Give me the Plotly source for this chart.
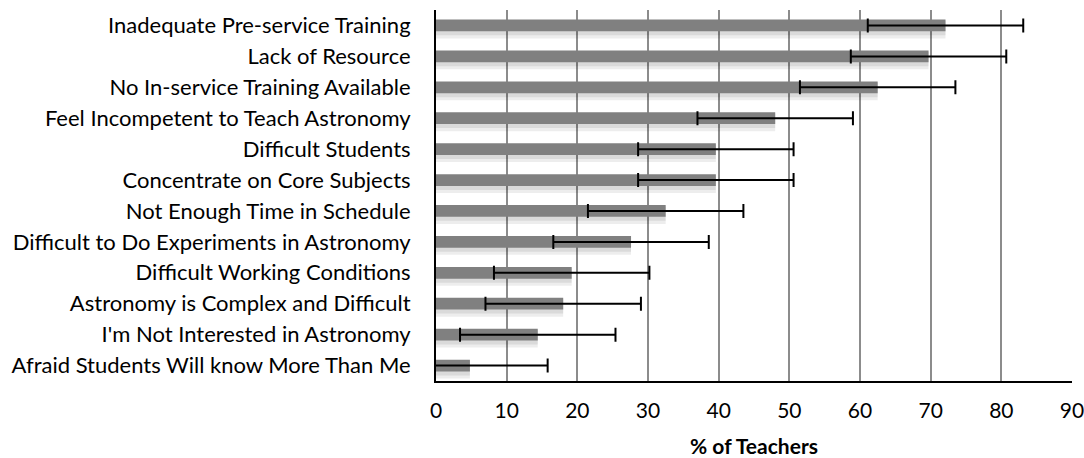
import plotly.graph_objects as go

categories = [
    "Inadequate Pre-service Training",
    "Lack of Resource",
    "No In-service Training Available",
    "Feel Incompetent to Teach Astronomy",
    "Difficult Students",
    "Concentrate on Core Subjects",
    "Not Enough Time in Schedule",
    "Difficult to Do Experiments in Astronomy",
    "Difficult Working Conditions",
    "Astronomy is Complex and Difficult",
    "I'm Not Interested in Astronomy",
    "Afraid Students Will know More Than Me",
]
percent = [72.1, 69.7, 62.5, 48.0, 39.6, 39.6, 32.5, 27.6, 19.2, 18.0, 14.4, 4.8]
error = [11.0, 11.0, 11.0, 11.0, 11.0, 11.0, 11.0, 11.0, 11.0, 11.0, 11.0, 11.0]
x_ticks = [0, 10, 20, 30, 40, 50, 60, 70, 80, 90]

FONT = "Lato, 'Open Sans', sans-serif"

fig = go.Figure()

# soft shadow under the bars
fig.add_trace(go.Bar(
    y=categories, x=percent, orientation="h",
    marker=dict(color="rgba(0,0,0,0.07)", line=dict(width=0)),
    width=0.56, offset=-0.14,
    hoverinfo="skip", showlegend=False,
))
fig.add_trace(go.Bar(
    y=categories, x=percent, orientation="h",
    marker=dict(color="rgba(0,0,0,0.08)", line=dict(width=0)),
    width=0.48, offset=-0.16,
    hoverinfo="skip", showlegend=False,
))

fig.add_trace(go.Bar(
    y=categories, x=percent, orientation="h",
    marker=dict(color="#808080", line=dict(width=0)),
    width=0.38, offset=-0.19,
    error_x=dict(type="data", array=error, arrayminus=error, visible=True,
                 color="black", thickness=2, width=7),
    showlegend=False,
))

fig.update_layout(
    width=1084, height=458,
    margin=dict(l=436, r=12, t=10, b=77),
    paper_bgcolor="white", plot_bgcolor="white",
    barmode="overlay",
    font=dict(family=FONT, size=21, color="black"),
    xaxis=dict(
        range=[0, 90], tickvals=x_ticks, ticktext=[str(v) for v in x_ticks],
        showgrid=True, gridcolor="#8c8c8c", gridwidth=1.5,
        showline=True, linecolor="black", linewidth=2,
        zeroline=False, ticks="", ticklen=0, ticklabelstandoff=10,
        ticklabeloverflow="allow", automargin=False,
        tickfont=dict(size=21, family=FONT),
        title=dict(text="<b>% of Teachers</b>", font=dict(size=21, family=FONT), standoff=18),
    ),
    yaxis=dict(
        autorange="reversed", showgrid=False, automargin=False,
        showline=True, linecolor="black", linewidth=2,
        ticks="", ticklabelstandoff=19,
        tickfont=dict(size=22, family=FONT),
    ),
)

fig.write_html("out.html", config={"displayModeBar": False},
               post_script="document.body.style.margin='0';")
